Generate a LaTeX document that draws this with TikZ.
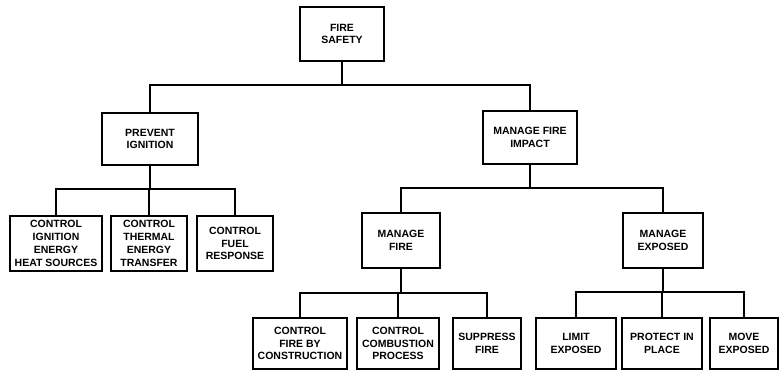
\documentclass[tikz,border=0pt]{standalone}
\usepackage{fontspec}
\setmainfont{Liberation Sans}
\begin{document}
\begin{tikzpicture}[x=1pt,y=-1pt,
  box/.style={draw,line width=2pt,rectangle,align=center,inner sep=1pt,
    font=\fontsize{10.5}{12.8}\selectfont\bfseries},
  link/.style={line width=2pt}]
\useasboundingbox (0,0) rectangle (779,372);
% top
\node[box,minimum width=84pt,minimum height=54pt] (root) at (342,34) {FIRE\\SAFETY};
% level 2
\node[box,minimum width=96pt,minimum height=52pt] (prev) at (150,139) {PREVENT\\IGNITION};
\node[box,minimum width=94pt,minimum height=53pt] (mfi) at (530,137.5) {MANAGE FIRE\\IMPACT};
% level 3 left
\node[box,minimum width=92pt,minimum height=55pt] (c1) at (56,243.5) {CONTROL\\IGNITION\\ENERGY\\HEAT SOURCES};
\node[box,minimum width=76pt,minimum height=55pt] (c2) at (149,243.5) {CONTROL\\THERMAL\\ENERGY\\TRANSFER};
\node[box,minimum width=76pt,minimum height=55pt] (c3) at (235,243.5) {CONTROL\\FUEL\\RESPONSE};
% level 3 right
\node[box,minimum width=78pt,minimum height=55pt] (mf) at (401,240.5) {MANAGE\\FIRE};
\node[box,minimum width=80pt,minimum height=55pt] (me) at (663,240.5) {MANAGE\\EXPOSED};
% level 4
\node[box,minimum width=94pt,minimum height=51pt] (b1) at (300,343.5) {CONTROL\\FIRE BY\\CONSTRUCTION};
\node[box,minimum width=82pt,minimum height=51pt] (b2) at (398,343.5) {CONTROL\\COMBUSTION\\PROCESS};
\node[box,minimum width=68pt,minimum height=51pt] (b3) at (487,343.5) {SUPPRESS\\FIRE};
\node[box,minimum width=80pt,minimum height=51pt] (b4) at (576,343.5) {LIMIT\\EXPOSED};
\node[box,minimum width=80pt,minimum height=51pt] (b5) at (662,343.5) {PROTECT IN\\PLACE};
\node[box,minimum width=68pt,minimum height=51pt] (b6) at (744,343.5) {MOVE\\EXPOSED};
% bar levels
\coordinate (j0) at (0,85);
\coordinate (j1) at (0,189);
\coordinate (j2) at (0,188);
\coordinate (j3) at (0,293);
\coordinate (j4) at (0,292);
% connectors
\draw[link] (root.south) -- (root.south |- j0);
\draw[link] (prev.north) |- (mfi.north |- j0) -- (mfi.north);
\draw[link] (prev.south) -- (prev.south |- j1);
\draw[link] (c1.north) |- (c3.north |- j1) -- (c3.north);
\draw[link] (c2.north) -- (c2.north |- j1);
\draw[link] (mfi.south) -- (mfi.south |- j2);
\draw[link] (mf.north) |- (me.north |- j2) -- (me.north);
\draw[link] (mf.south) -- (mf.south |- j3);
\draw[link] (b1.north) |- (b3.north |- j3) -- (b3.north);
\draw[link] (b2.north) -- (b2.north |- j3);
\draw[link] (me.south) -- (me.south |- j4);
\draw[link] (b4.north) |- (b6.north |- j4) -- (b6.north);
\draw[link] (b5.north) -- (b5.north |- j4);
\end{tikzpicture}
\end{document}
